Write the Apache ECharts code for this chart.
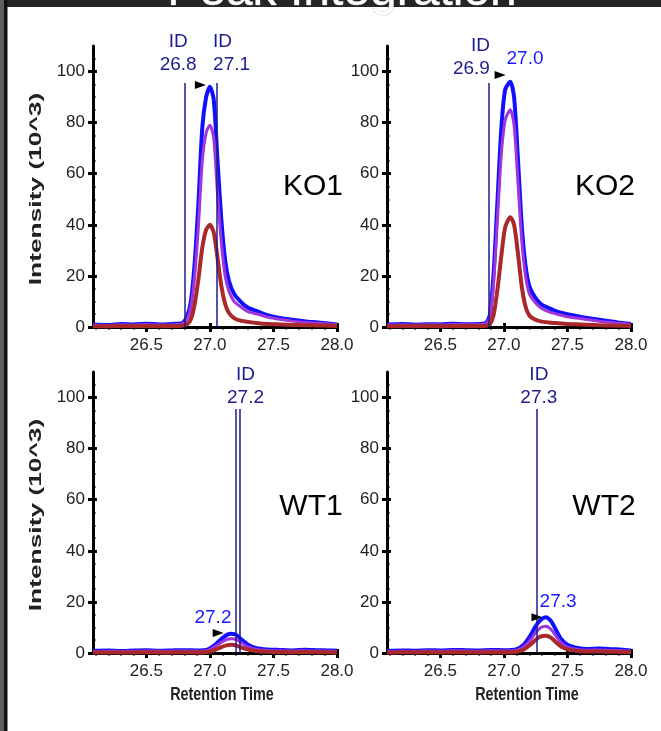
<!DOCTYPE html>
<html><head><meta charset="utf-8">
<script src="https://cdn.jsdelivr.net/npm/echarts@6/dist/echarts.min.js"></script>
<style>html,body{margin:0;padding:0;background:#fff;}#c{width:661px;height:731px;}</style>
</head><body><div id="c"></div><script>
// ---- tick labels ----
const xTickValues = [26.5, 27.0, 27.5, 28.0];
const xMinorValues = [26.1,26.2,26.3,26.4,26.6,26.7,26.8,26.9,27.1,27.2,27.3,27.4,27.6,27.7,27.8,27.9];
const yTickValues = [0, 20, 40, 60, 80, 100];
const yMinorValues = [5,10,15,25,30,35,45,50,55,65,70,75,85,90,95,105];
const panelNames = ['KO1', 'KO2', 'WT1', 'WT2'];

// ---- KO1 ----
const ko1Time   = [26.08,26.2,26.3,26.4,26.5,26.6,26.7,26.78,26.82,26.85,26.88,26.91,26.94,26.97,27.0,27.03,27.06,27.09,27.12,27.15,27.19,27.24,27.3,27.38,27.46,27.55,27.65,27.75,27.85,27.93,28.0];
const ko1Blue   = [1.0,0.8,1.2,1.0,1.3,1.0,1.2,1.5,4,10,25,49,78,90,94,89,65,42,26,18,13,10,7.5,6,4.5,3.5,2.8,2.2,1.8,1.4,1.0];
const ko1Purple = [0.8,0.6,0.9,0.7,1.0,0.8,0.9,1.2,3,8,20,40,65,76,79,74,52,33,20,14,10,8,6,5,3.8,3,2.3,1.8,1.5,1.2,0.9];
const ko1Red    = [0.3,0.3,0.4,0.3,0.4,0.3,0.4,0.5,1,3,9,19,31,38,40,37,27,16,9,5.5,3.5,2.5,2,1.5,1.2,1,0.8,0.7,0.6,0.5,0.4];
// ---- KO2 ----
const ko2Time   = [26.08,26.2,26.3,26.4,26.5,26.6,26.7,26.8,26.86,26.89,26.92,26.95,26.98,27.01,27.05,27.08,27.11,27.14,27.17,27.2,27.24,27.29,27.35,27.42,27.5,27.6,27.7,27.8,27.9,28.0];
const ko2Blue   = [1.0,1.2,0.9,1.1,1.0,1.3,1.1,1.2,1.6,5,22,50,78,93,96,90,66,40,24,16,12,9,7.5,6,5,4,3.2,2.5,1.8,1.2];
const ko2Purple = [0.8,0.9,0.7,0.9,0.8,1.0,0.9,1.0,1.3,4,18,43,68,81,85,79,57,34,20,13,10,7.5,6,5,4,3.3,2.6,2,1.5,1];
const ko2Red    = [0.3,0.4,0.3,0.4,0.3,0.4,0.4,0.4,0.5,1,5,15,28,39,43,40,29,16,8,4.5,3,2.2,1.8,1.5,1.2,1,0.8,0.6,0.5,0.4];
// ---- WT1 ----
const wt1Time   = [26.08,26.2,26.3,26.4,26.5,26.6,26.7,26.8,26.9,26.98,27.04,27.09,27.13,27.17,27.21,27.25,27.3,27.36,27.45,27.55,27.65,27.75,27.85,27.93,28.0];
const wt1Blue   = [0.9,1.0,0.8,1.0,1.1,0.9,1.0,1.1,1.0,1.3,3.2,5.5,7,7.5,7,5.2,3.2,2.0,1.4,1.2,1.0,1.3,1.1,1.0,0.9];
const wt1Purple = [0.6,0.7,0.6,0.7,0.8,0.7,0.7,0.8,0.7,1.0,2.5,4.2,5.3,5.6,5.2,3.9,2.4,1.5,1.0,0.9,0.8,0.9,0.8,0.7,0.6];
const wt1Red    = [0.2,0.2,0.2,0.2,0.3,0.2,0.2,0.3,0.2,0.4,1.2,2.3,3.0,3.2,2.9,2.1,1.3,0.8,0.5,0.4,0.3,0.4,0.3,0.3,0.2];
// ---- WT2 ----
const wt2Time   = [26.08,26.2,26.3,26.4,26.5,26.6,26.7,26.8,26.9,27.0,27.1,27.16,27.21,27.25,27.29,27.33,27.37,27.41,27.45,27.5,27.58,27.66,27.75,27.85,27.93,28.0];
const wt2Blue   = [0.9,1.0,0.9,1.1,1.0,1.2,1.1,1.0,1.2,1.1,1.5,3.5,7,10.5,13,14,12.5,9,5.5,3.2,2.0,1.6,1.8,1.5,1.3,1.0];
const wt2Purple = [0.6,0.7,0.6,0.8,0.7,0.9,0.8,0.7,0.9,0.8,1.1,2.6,5.2,8,10,10.5,9.3,6.6,4,2.3,1.4,1.1,1.2,1.0,0.9,0.7];
const wt2Red    = [0.2,0.3,0.2,0.3,0.2,0.3,0.3,0.2,0.3,0.3,0.5,1.5,3.3,5.2,6.5,6.8,6,4.2,2.5,1.4,0.8,0.6,0.6,0.5,0.4,0.3];

// ---- identification lines (retention time, label) ----
const ko1IdTimes = [26.8, 27.05];
const ko2IdTimes = [26.88];
const wt1IdTimes = [27.205, 27.235];
const wt2IdTimes = [27.255];
const idLineTop = 95.5;
// ID labels: [x, y, text, align]
const ko1IdLabels = [[26.75, 107.2, 'ID\n26.8', 'center'], [27.025, 107.2, 'ID\n27.1', 'left']];
const ko2IdLabels = [[26.89, 105.5, 'ID\n26.9', 'right']];
const wt1IdLabels = [[27.28, 104.5, 'ID\n27.2', 'center']];
const wt2IdLabels = [[27.275, 104.5, 'ID\n27.3', 'center']];
// apex labels and apex arrows
const ko1Apex = {arrow: [26.925, 94.7], label: null};
const ko2Apex = {arrow: [26.97, 98.6], label: [27.166, 104.9, '27.0']};
const wt1Apex = {arrow: [27.065, 7.8], label: [27.024, 13.7, '27.2']};
const wt2Apex = {arrow: [27.26, 14.0], label: [27.426, 20.0, '27.3']};

const panels = [
  {time: ko1Time, blue: ko1Blue, purple: ko1Purple, red: ko1Red, ids: ko1IdTimes, idLabels: ko1IdLabels, apex: ko1Apex},
  {time: ko2Time, blue: ko2Blue, purple: ko2Purple, red: ko2Red, ids: ko2IdTimes, idLabels: ko2IdLabels, apex: ko2Apex},
  {time: wt1Time, blue: wt1Blue, purple: wt1Purple, red: wt1Red, ids: wt1IdTimes, idLabels: wt1IdLabels, apex: wt1Apex},
  {time: wt2Time, blue: wt2Blue, purple: wt2Purple, red: wt2Red, ids: wt2IdTimes, idLabels: wt2IdLabels, apex: wt2Apex}
];

const FONT = "'Liberation Sans', Arial, sans-serif";
const NAVY = '#1c1c8c';
const BRIGHT = '#1a1aff';
const gridPos = [
  {left: 93, top: 46, width: 244, height: 281},
  {left: 387, top: 46, width: 244, height: 281},
  {left: 93, top: 372, width: 244, height: 281},
  {left: 387, top: 372, width: 244, height: 281}
];
const grids = [], xAxes = [], yAxes = [], series = [];
const fmt1 = v => Number(v).toFixed(1);

gridPos.forEach((g, i) => {
  grids.push(Object.assign({containLabel: false}, g));
  const xBase = {gridIndex: i, type: 'value', min: 26.08, max: 28.0, position: 'bottom',
    axisLine: {onZero: false, show: false}, splitLine: {show: false}, axisLabel: {show: false}, axisTick: {show: false}};
  xAxes.push(Object.assign({}, xBase, {
    axisLine: {onZero: false, show: true, lineStyle: {color: '#000', width: 3}},
    axisTick: {show: true, customValues: xTickValues, length: 5, lineStyle: {color: '#000', width: 3}},
    axisLabel: {show: true, customValues: xTickValues, formatter: fmt1, fontSize: 17, color: '#222', fontFamily: FONT, margin: 10}
  }));
  xAxes.push(Object.assign({}, xBase, {
    axisTick: {show: true, inside: true, customValues: xTickValues, length: 4, lineStyle: {color: '#000', width: 3}}
  }));
  xAxes.push(Object.assign({}, xBase, {
    axisTick: {show: true, customValues: xMinorValues, length: 2.5, lineStyle: {color: '#000', width: 2}}
  }));
  const yBase = {gridIndex: i, type: 'value', min: 0, max: 110, position: 'left',
    axisLine: {onZero: false, show: false}, splitLine: {show: false}, axisLabel: {show: false}, axisTick: {show: false}};
  yAxes.push(Object.assign({}, yBase, {
    axisLine: {onZero: false, show: true, lineStyle: {color: '#000', width: 3}},
    axisTick: {show: true, customValues: yTickValues, length: 5, lineStyle: {color: '#000', width: 3}},
    axisLabel: {show: true, customValues: yTickValues, fontSize: 17, color: '#222', fontFamily: FONT, margin: 8}
  }));
  yAxes.push(Object.assign({}, yBase, {
    axisTick: {show: true, inside: true, customValues: yTickValues, length: 4, lineStyle: {color: '#000', width: 3}}
  }));
  yAxes.push(Object.assign({}, yBase, {
    axisTick: {show: true, inside: true, customValues: yMinorValues, length: 2.5, lineStyle: {color: '#000', width: 2}}
  }));

  const p = panels[i];
  const ax = {xAxisIndex: 3 * i, yAxisIndex: 3 * i};
  const pairs = arr => p.time.map((t, k) => [t, arr[k]]);
  const markPts = [];
  p.idLabels.forEach(l => markPts.push({
    coord: [l[0], l[1]], symbol: 'rect', symbolSize: 1, itemStyle: {color: 'transparent'},
    label: {show: true, position: 'inside', align: l[3], formatter: l[2], color: NAVY, fontSize: 19, lineHeight: 23, fontFamily: FONT}
  }));
  if (p.apex.label) {
    const l = p.apex.label;
    markPts.push({coord: [l[0], l[1]], symbol: 'rect', symbolSize: 1, itemStyle: {color: 'transparent'},
      label: {show: true, position: 'inside', formatter: l[2], color: BRIGHT, fontSize: 19, fontFamily: FONT}});
  }
  markPts.push({coord: p.apex.arrow, symbol: 'triangle', symbolSize: [8, 11], symbolRotate: -90,
    itemStyle: {color: '#000'}, label: {show: false}});

  series.push(Object.assign({type: 'line', name: 'blue' + i, data: pairs(p.blue), showSymbol: false, smooth: 0.25,
    lineStyle: {color: '#1010ff', width: 4}, itemStyle: {color: '#1010ff'}, z: 2, animation: false,
    markLine: {silent: true, symbol: 'none', animation: false, label: {show: false},
      lineStyle: {color: NAVY, width: 1.5, type: 'solid'},
      data: p.ids.map(t => [{coord: [t, 0]}, {coord: [t, idLineTop]}])}
  }, ax));
  series.push(Object.assign({type: 'line', name: 'purple' + i, data: pairs(p.purple), showSymbol: false, smooth: 0.25,
    lineStyle: {color: '#a035dc', width: 3}, itemStyle: {color: '#a035dc'}, z: 3, animation: false}, ax));
  series.push(Object.assign({type: 'line', name: 'red' + i, data: pairs(p.red), showSymbol: false, smooth: 0.25,
    lineStyle: {color: '#a8282c', width: 4}, itemStyle: {color: '#a8282c'}, z: 4, animation: false,
    markPoint: {silent: true, animation: false, data: markPts}}, ax));
});

const txt = (x, y, text, font, fill, extra) => Object.assign({type: 'text', x: x, y: y,
  style: {text: text, fill: fill, font: font, textAlign: 'center', textVerticalAlign: 'middle'}}, extra || {});
const graphic = [
  {type: 'rect', shape: {x: 0, y: 0, width: 661, height: 7}, style: {fill: '#262626'}, z: 100},
  {type: 'rect', shape: {x: 0, y: 0, width: 4, height: 731}, style: {fill: '#5e5e5e'}, z: 100},
  {type: 'rect', shape: {x: 4, y: 0, width: 3.5, height: 731}, style: {fill: '#111'}, z: 100},
  {type: 'text', x: 342, y: 16, z: 101, style: {text: 'Peak Integration', fill: '#fff', font: "48px 'Liberation Sans', Arial, sans-serif", textAlign: 'center', textVerticalAlign: 'bottom', stroke: '#aaa', lineWidth: 0.6}},
  txt(36, 189, 'Intensity (10^3)', "bold 17px 'Liberation Sans', Arial, sans-serif", '#222', {rotation: Math.PI / 2, scaleX: 1.55}),
  txt(36, 515, 'Intensity (10^3)', "bold 17px 'Liberation Sans', Arial, sans-serif", '#222', {rotation: Math.PI / 2, scaleX: 1.55}),
  txt(222, 695, 'Retention Time', "bold 18px 'Liberation Sans', Arial, sans-serif", '#222', {scaleX: 0.8}),
  txt(527, 695, 'Retention Time', "bold 18px 'Liberation Sans', Arial, sans-serif", '#222', {scaleX: 0.8}),
  txt(313, 187, panelNames[0], "30px 'Liberation Sans', Arial, sans-serif", '#000'),
  txt(605, 187, panelNames[1], "30px 'Liberation Sans', Arial, sans-serif", '#000'),
  txt(311, 507, panelNames[2], "30px 'Liberation Sans', Arial, sans-serif", '#000'),
  txt(604, 507, panelNames[3], "30px 'Liberation Sans', Arial, sans-serif", '#000')
];

const chart = echarts.init(document.getElementById('c'), null, {renderer: 'canvas'});
chart.setOption({animation: false, backgroundColor: '#fff', grid: grids, xAxis: xAxes, yAxis: yAxes, series: series, graphic: graphic});
</script></body></html>
